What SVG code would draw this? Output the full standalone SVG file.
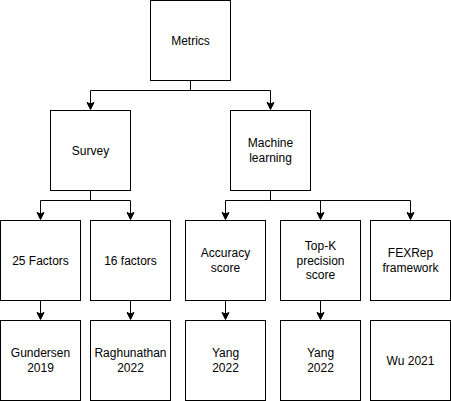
<svg xmlns="http://www.w3.org/2000/svg" width="451" height="401" viewBox="0 0 451 401">
<style>
.box{fill:#fff;stroke:#000;stroke-width:1}
.lbl{font-family:Helvetica,"Liberation Sans",Arial,sans-serif;font-size:12px;fill:#000;text-anchor:middle}
.edge{fill:none;stroke:#000;stroke-width:1}
</style>
<defs>
<marker id="arr" markerUnits="userSpaceOnUse" markerWidth="10" markerHeight="10" viewBox="-5 -8 10 10" refX="0" refY="0" orient="auto-start-reverse" overflow="visible">
<path d="M0 0 L-3.5 -8 L0 -6 L3.5 -8 Z" fill="#000" stroke="#000" stroke-width="1" transform="rotate(-90)"/>
</marker>
</defs>
<rect width="451" height="401" fill="#fff"/>
<g id="connectors">
<path class="edge" d="M190.5 80.5 V90.5 H90.5 V104" />
<path class="edge" d="M190.5 80.5 V90.5 H270.5 V104" />
<path class="edge" d="M90.5 190.5 V200.5 H40.5 V214" />
<path class="edge" d="M90.5 190.5 V200.5 H130.5 V214" />
<path class="edge" d="M270.5 190.5 V200.5 H225.5 V214" />
<path class="edge" d="M270.5 190.5 V200.5 H320.5 V214" />
<path class="edge" d="M270.5 190.5 V200.5 H410.5 V214" />
<path class="edge" d="M40.5 300.5 V314" />
<path class="edge" d="M130.5 300.5 V314" />
<path class="edge" d="M225.5 300.5 V314" />
<path class="edge" d="M320.5 300.5 V314" />
<g fill="#000" stroke="#000" stroke-width="1">
<path d="M87 102.5 L90.5 109.5 L94 102.5 L90.5 104 Z"/>
<path d="M267 102.5 L270.5 109.5 L274 102.5 L270.5 104 Z"/>
<path d="M37 212.5 L40.5 219.5 L44 212.5 L40.5 214 Z"/>
<path d="M127 212.5 L130.5 219.5 L134 212.5 L130.5 214 Z"/>
<path d="M222 212.5 L225.5 219.5 L229 212.5 L225.5 214 Z"/>
<path d="M317 212.5 L320.5 219.5 L324 212.5 L320.5 214 Z"/>
<path d="M407 212.5 L410.5 219.5 L414 212.5 L410.5 214 Z"/>
<path d="M37 312.5 L40.5 319.5 L44 312.5 L40.5 314 Z"/>
<path d="M127 312.5 L130.5 319.5 L134 312.5 L130.5 314 Z"/>
<path d="M222 312.5 L225.5 319.5 L229 312.5 L225.5 314 Z"/>
<path d="M317 312.5 L320.5 319.5 L324 312.5 L320.5 314 Z"/>
</g>
</g>
<g id="metrics"><rect class="box" x="150.5" y="0.5" width="80" height="80"/><text class="lbl" x="190.5" y="44.5">Metrics</text></g>
<g id="survey"><rect class="box" x="50.5" y="110.5" width="80" height="80"/><text class="lbl" x="90.5" y="154.5">Survey</text></g>
<g id="ml"><rect class="box" x="230.5" y="110.5" width="80" height="80"/><text class="lbl" x="270.5" y="147">Machine</text><text class="lbl" x="270.5" y="162">learning</text></g>
<g id="factors25"><rect class="box" x="0.5" y="220.5" width="80" height="80"/><text class="lbl" x="40.5" y="264.5">25 Factors</text></g>
<g id="factors16"><rect class="box" x="90.5" y="220.5" width="80" height="80"/><text class="lbl" x="130.5" y="264.5">16 factors</text></g>
<g id="accuracy"><rect class="box" x="185.5" y="220.5" width="80" height="80"/><text class="lbl" x="225.5" y="257">Accuracy</text><text class="lbl" x="225.5" y="272">score</text></g>
<g id="topk"><rect class="box" x="280.5" y="220.5" width="80" height="80"/><text class="lbl" x="320.5" y="250">Top-K</text><text class="lbl" x="320.5" y="264.5">precision</text><text class="lbl" x="320.5" y="279">score</text></g>
<g id="fexrep"><rect class="box" x="370.5" y="220.5" width="80" height="80"/><text class="lbl" x="410.5" y="257">FEXRep</text><text class="lbl" x="410.5" y="272">framework</text></g>
<g id="gundersen"><rect class="box" x="0.5" y="320.5" width="80" height="80"/><text class="lbl" x="40.5" y="357">Gundersen</text><text class="lbl" x="40.5" y="372">2019</text></g>
<g id="raghunathan"><rect class="box" x="90.5" y="320.5" width="80" height="80"/><text class="lbl" x="130.5" y="357">Raghunathan</text><text class="lbl" x="130.5" y="372">2022</text></g>
<g id="yang1"><rect class="box" x="185.5" y="320.5" width="80" height="80"/><text class="lbl" x="225.5" y="357">Yang</text><text class="lbl" x="225.5" y="372">2022</text></g>
<g id="yang2"><rect class="box" x="280.5" y="320.5" width="80" height="80"/><text class="lbl" x="320.5" y="357">Yang</text><text class="lbl" x="320.5" y="372">2022</text></g>
<g id="wu"><rect class="box" x="370.5" y="320.5" width="80" height="80"/><text class="lbl" x="410.5" y="364.5">Wu 2021</text></g>
</svg>
